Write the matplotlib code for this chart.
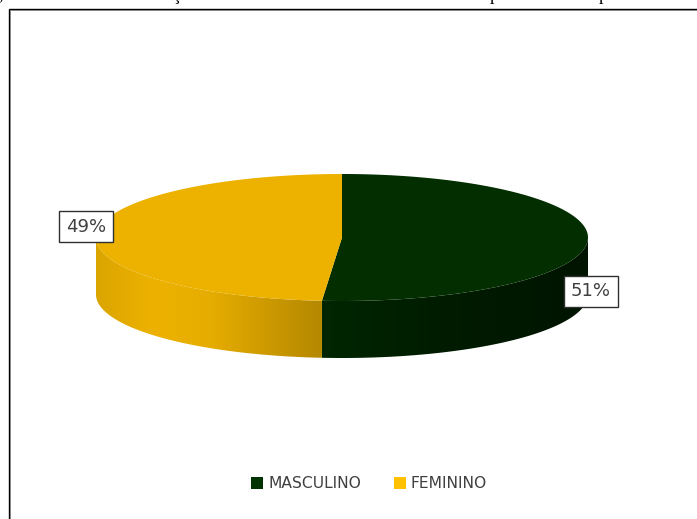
import numpy as np
import matplotlib
matplotlib.use("Agg")
import matplotlib.pyplot as plt
from matplotlib.colors import LinearSegmentedColormap
from matplotlib.patches import Polygon

# dados
categorias = ["MASCULINO", "FEMININO"]
valores = [51.3, 48.7]
rotulos = ["51%", "49%"]

cor_topo = ["#022e00", "#edb200"]
cor_legenda = ["#023302", "#ffc000"]

# geometria da pizza em pixels
cx, cy = 342, 237.5
a, b = 246, 63.5
prof = 57

fig = plt.figure(figsize=(6.97, 5.19), dpi=100)
ax = fig.add_axes([0, 0, 1, 1])
ax.set_xlim(0, 697)
ax.set_ylim(519, 0)
ax.axis("off")

# moldura (continua alem da imagem a direita e embaixo)
ax.plot([10, 10, 700], [525, 10, 10], color="#a8a8a8", lw=0.72, solid_joinstyle="miter")
ax.plot([9, 9, 700], [525, 9, 9], color="black", lw=1.0, solid_joinstyle="miter")

# restos do titulo cortado no alto da imagem
for x, letra in [(1, ","), (176, "ç"), (494, "p"), (603, "p")]:
    ax.text(x, -0.5, letra, ha="center", va="baseline", fontsize=13,
            family="Liberation Serif", color="black")

# fatias: comecam no topo e giram no sentido horario
total = sum(valores)
fim = np.cumsum(valores) / total * 2 * np.pi
inicio = np.concatenate([[0], fim[:-1]])


def ponto(t, dy=0):
    return cx + a * np.sin(t), cy - b * np.cos(t) + dy


# parede lateral, com degrade horizontal
grad_verde = LinearSegmentedColormap.from_list(
    "verde", [(0, "#012601"), (0.45, "#001c00"), (1, "#001400")])
grad_amarelo = LinearSegmentedColormap.from_list(
    "amarelo", [(0, "#dba500"), (0.25, "#edb200"), (0.5, "#e6ad00"), (1, "#b58800")])

for ini, f, cmap in [(inicio[0], fim[0], grad_verde), (inicio[1], fim[1], grad_amarelo)]:
    # so a parte da frente do contorno aparece
    lo = max(ini, np.pi / 2)
    hi = min(f, 3 * np.pi / 2)
    t = np.linspace(lo, hi, 200)
    x1, y1 = ponto(t)
    x2, y2 = ponto(t[::-1], prof)
    patch = Polygon(np.column_stack([np.r_[x1, x2], np.r_[y1, y2]]),
                    closed=True, fc="none", ec="none", transform=ax.transData)
    ax.add_patch(patch)
    rampa = np.linspace(0, 1, 256).reshape(1, -1)
    im = ax.imshow(rampa, cmap=cmap, extent=[x1.min(), x1.max(), 400, 170],
                   aspect="auto", zorder=2)
    im.set_clip_path(patch)
ax.set_xlim(0, 697)
ax.set_ylim(519, 0)

# topo
for ini, f, cor in zip(inicio, fim, cor_topo):
    t = np.linspace(ini, f, 300)
    x, y = ponto(t)
    ax.fill(np.r_[cx, x], np.r_[cy, y], color=cor, lw=0, zorder=3)

# rotulos de dados
caixa = dict(boxstyle="square,pad=0.38", fc="white", ec="#303030", lw=1)
ax.text(591, 291.5, rotulos[0], ha="center", va="center", fontsize=13,
        color="#404040", bbox=caixa, zorder=5)
ax.text(86, 226.5, rotulos[1], ha="center", va="center", fontsize=13,
        color="#404040", bbox=caixa, zorder=5)

# legenda
ax.scatter([257, 400], [483, 483], marker="s", s=70, c=cor_legenda, lw=0, zorder=5)
ax.text(268, 483, categorias[0], va="center", fontsize=11.2, color="#404040")
ax.text(410, 483, categorias[1], va="center", fontsize=11.2, color="#404040")

fig.savefig("out.png", dpi=100)
